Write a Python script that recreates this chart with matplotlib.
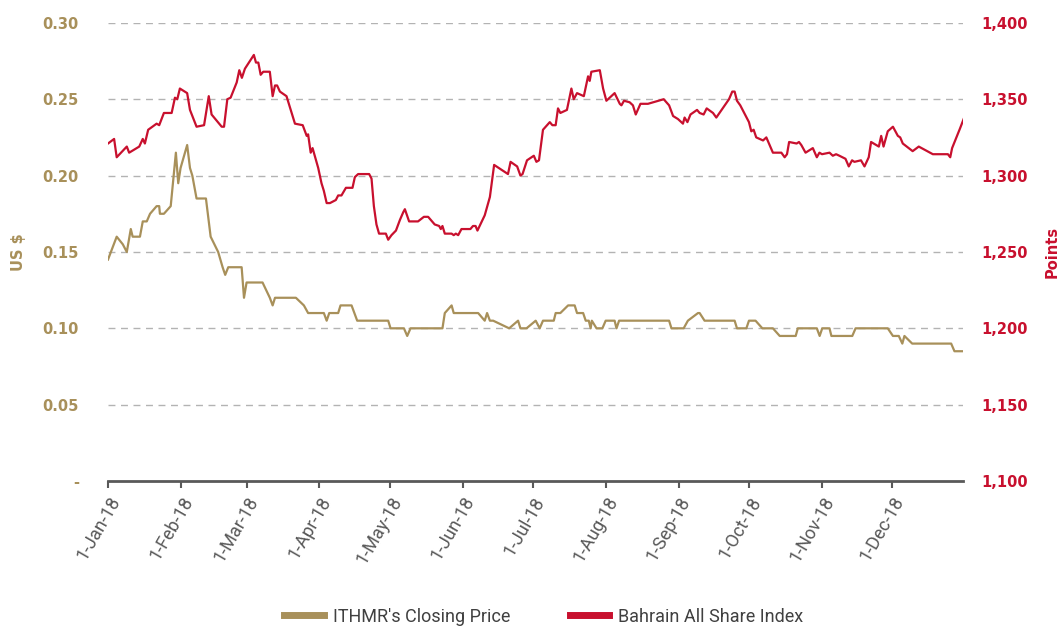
import pandas as pd
import numpy as np
import matplotlib
matplotlib.use("Agg")
import matplotlib.pyplot as plt
import matplotlib.dates as mdates

# days after 1-Jan-18 and values
price_days = [0, 3.7, 6.3, 8, 9.7, 10.5, 13.6, 14.8, 16.5, 17.9, 20.7, 21.8, 22.1, 23.8,
              26.7, 28.9, 29.9, 30.9, 33.7, 34.9, 35.9, 37.7, 41.7, 43.7, 46.9, 48.8,
              49.9, 51.2, 56.9, 57.9, 59, 65.8, 68.9, 70.1, 71.1, 80, 83.4, 85.2, 91.9,
              93.1, 94.2, 98, 99, 103.7, 106.1, 119.3, 120.3, 126, 127.4, 128.8, 142.4,
              143.4, 146.3, 147.2, 157.6, 160.4, 161.4, 162.6, 164, 170.8, 174.6, 175.6,
              178.2, 182.1, 183.8, 185.2, 189.8, 190.6, 192.6, 195.9, 198.7, 199.7, 202.3,
              203.4, 204.7, 205.5, 206, 208, 210.5, 211.9, 215.7, 216.5, 217.6, 238.9,
              239.9, 245.1, 246.9, 251.2, 251.9, 254, 266.8, 267.8, 271.8, 272.9, 275.7,
              278.6, 283.1, 286, 292.8, 293.7, 301.8, 303, 304.1, 307.2, 308, 316.9,
              318.3, 332, 334.2, 336.7, 338.2, 339.1, 342.4, 359, 360.4, 364]
price = [0.145, 0.16, 0.155, 0.15, 0.165, 0.16, 0.16, 0.17, 0.17, 0.175, 0.18, 0.18, 0.175, 0.175,
         0.18, 0.215, 0.195, 0.205, 0.22, 0.205, 0.2, 0.185, 0.185, 0.16, 0.15, 0.14,
         0.135, 0.14, 0.14, 0.12, 0.13, 0.13, 0.12, 0.115, 0.12, 0.12, 0.115, 0.11, 0.11,
         0.105, 0.11, 0.11, 0.115, 0.115, 0.105, 0.105, 0.10, 0.10, 0.095, 0.10, 0.10,
         0.11, 0.115, 0.11, 0.11, 0.105, 0.11, 0.105, 0.105, 0.10, 0.105, 0.10,
         0.10, 0.105, 0.10, 0.105, 0.105, 0.11, 0.11, 0.115, 0.115, 0.11, 0.11,
         0.105, 0.105, 0.10, 0.105, 0.10, 0.10, 0.105, 0.105, 0.10, 0.105, 0.105,
         0.10, 0.10, 0.105, 0.11, 0.11, 0.105, 0.105, 0.10, 0.10, 0.105, 0.105,
         0.10, 0.10, 0.095, 0.095, 0.10, 0.10, 0.095, 0.10, 0.10, 0.095, 0.095,
         0.10, 0.10, 0.095, 0.095, 0.09, 0.095, 0.09, 0.09, 0.085, 0.085]

index_days = [0, 2.6, 3.7, 8, 9, 13.3, 14.8, 15.7, 17.1, 20.7, 21.8, 23.8, 27.1, 28.5, 29.5,
              30.6, 33.7, 34.9, 37.7, 40.9, 42.9, 44.1, 48.4, 49.4, 50.8, 52.2, 54.8, 55.9,
              57, 58.3, 62.1, 63, 64, 65, 66.1, 68.9, 70.1, 71.1, 72, 73.2, 76, 78.6, 79.6,
              82.9, 84.6, 85.2, 86.3, 87.1, 89.5, 90.9, 91.9, 93.1, 94.5, 97, 98, 99.4,
              101.3, 104.1, 105.1, 106.5, 111.2, 112.2, 113.2, 114.3, 115.4, 118.3, 119.3,
              120.7, 122.6, 124.3, 125.7, 126.4, 128.2, 132, 134.5, 136.3, 139.1, 141,
              141.7, 142.4, 143.4, 146.3, 147.2, 148.1, 149.1, 150.5, 154.3, 155.4, 156.5,
              157.3, 160.4, 162.6, 164.4, 170.3, 171.4, 174.2, 175.6, 176.5, 178.4, 181.3,
              182.4, 183.5, 185.2, 188.1, 189.2, 190.6, 191.6, 192.6, 195.4, 197.3, 198.3,
              199.7, 202.6, 204.4, 205.1, 205.8, 209.4, 210.8, 212.2, 215.7, 217.9, 218.6,
              219.7, 222.1, 223.5, 224.7, 226.7, 229.9, 236.6, 238.9, 240.6, 242.7, 244.8,
              245.5, 246.7, 248, 250.8, 251.9, 253.6, 254.9, 257.6, 259, 264.4, 265.8,
              266.8, 267.8, 269.2, 272.9, 273.9, 274.9, 276, 278.9, 280.3, 283.1, 286.7,
              288.1, 289.1, 290, 293.2, 294.2, 295.2, 297, 300.1, 301.8, 302.9, 304, 307.2,
              308.6, 310, 311.4, 314, 315.4, 316.8, 317.8, 320.6, 322.1, 323.9, 324.9,
              328.2, 329.2, 330.2, 332, 334.2, 336.3, 337.3, 338.4, 342.6, 345.2, 351.2,
              357.6, 358.6, 359.4, 362.8, 364.3]
index = [1321, 1324, 1312, 1319, 1315, 1319, 1324, 1321, 1330, 1334, 1333, 1341, 1341, 1351, 1350,
         1357, 1354, 1343, 1332, 1333, 1352, 1340, 1332, 1332, 1350, 1351, 1361, 1369,
         1364, 1370, 1379, 1374, 1374, 1366, 1368, 1368, 1352, 1359, 1359, 1355, 1352, 1339, 1334,
         1333, 1326, 1327, 1315, 1318, 1305, 1295, 1290, 1282, 1282, 1284, 1287, 1287,
         1292, 1292, 1299, 1301, 1301, 1298, 1280, 1268, 1262, 1262, 1258,
         1261, 1264, 1271, 1276, 1278, 1270, 1270, 1273, 1273, 1268, 1267,
         1265, 1267, 1262, 1262, 1261, 1262, 1261, 1265, 1265, 1267, 1267,
         1264, 1274, 1286, 1307, 1301, 1309, 1306, 1300, 1301, 1310, 1313,
         1309, 1310, 1330, 1335, 1333, 1333, 1344, 1341, 1343, 1357, 1350,
         1354, 1352, 1365, 1362, 1368, 1369, 1357, 1349, 1354, 1347, 1346,
         1349, 1348, 1346, 1340, 1347, 1347, 1350, 1346, 1339, 1337, 1334,
         1338, 1335, 1340, 1343, 1341, 1340, 1344, 1341, 1338, 1350, 1355,
         1355, 1349, 1346, 1335, 1329, 1330, 1325, 1323, 1325, 1315, 1315,
         1312, 1314, 1322, 1321, 1322, 1320, 1315, 1318, 1312, 1315, 1314, 1315,
         1313, 1314, 1313, 1311, 1306, 1310, 1309, 1310, 1306, 1312, 1322,
         1319, 1326, 1319, 1329, 1332, 1326, 1325, 1321, 1316, 1319, 1314,
         1314, 1312, 1318, 1331, 1337]

left_ticks = [0, 0.05, 0.10, 0.15, 0.20, 0.25, 0.30]
left_labels = ["-", "0.05", "0.10", "0.15", "0.20", "0.25", "0.30"]
right_ticks = [1100, 1150, 1200, 1250, 1300, 1350, 1400]
right_labels = ["1,100", "1,150", "1,200", "1,250", "1,300", "1,350", "1,400"]

start = pd.Timestamp("2018-01-01")
price_dates = start + pd.to_timedelta(price_days, unit="D")
index_dates = start + pd.to_timedelta(index_days, unit="D")

gold = "#A8905A"
red = "#C8102E"
grey = "#595959"

plt.rcParams['font.family'] = ['Roboto', 'DejaVu Sans']
bold_font = {"family": "DejaVu Sans", "weight": "bold", "size": 10.5}

fig = plt.figure(figsize=(10.62, 6.28), dpi=100)
ax = fig.add_axes([0.1017, 0.234, 0.805, 0.7296])
ax2 = ax.twinx()

ax.plot(price_dates, price, color=gold, lw=1.6, label="ITHMR's Closing Price")
ax2.plot(index_dates, index, color=red, lw=1.6, label="Bahrain All Share Index")

ax.set_ylim(0, 0.30)
ax2.set_ylim(1100, 1400)
ax.set_xlim(pd.Timestamp("2018-01-01"), pd.Timestamp("2018-12-31"))

ax.set_yticks(left_ticks, left_labels, fontdict=bold_font)
ax2.set_yticks(right_ticks, right_labels, fontdict=bold_font)

for t in left_ticks[1:]:
    ax.axhline(t, color="#b3b3b3", lw=1, ls=(0, (5, 4)), zorder=0)

months = pd.date_range("2018-01-01", "2018-12-01", freq="MS")
ax.set_xticks(months)
ax.xaxis.set_major_formatter(mdates.DateFormatter("%-d-%b-%y"))
for lbl in ax.get_xticklabels():
    lbl.set_rotation(60)
    lbl.set_ha("right")
    lbl.set_rotation_mode("anchor")
ax.tick_params(axis="x", colors=grey, labelsize=13, length=5, width=1.5, direction="out", pad=4)
ax.tick_params(axis="y", length=0, labelcolor=gold, pad=21)
ax2.tick_params(axis="y", length=0, labelcolor=red, pad=13)

for a in (ax, ax2):
    for s in ("top", "left", "right"):
        a.spines[s].set_visible(False)
    a.spines["bottom"].set_color(grey)
    a.spines["bottom"].set_linewidth(2)
ax2.spines["bottom"].set_visible(False)

ax.set_ylabel("US $", color=gold, fontdict=bold_font, labelpad=12)
ax2.set_ylabel("Points", color=red, fontdict=bold_font, labelpad=12)

h1, l1 = ax.get_legend_handles_labels()
h2, l2 = ax2.get_legend_handles_labels()
leg = fig.legend(h1 + h2, l1 + l2, loc="center", bbox_to_anchor=(0.512, 0.018),
                 ncol=2, frameon=False, fontsize=13, handlelength=2.2,
                 handletextpad=0.5, columnspacing=3.3)
for line in leg.get_lines():
    line.set_linewidth(5)
for txt in leg.get_texts():
    txt.set_color("#404040")

plt.savefig("out.png", dpi=100)
